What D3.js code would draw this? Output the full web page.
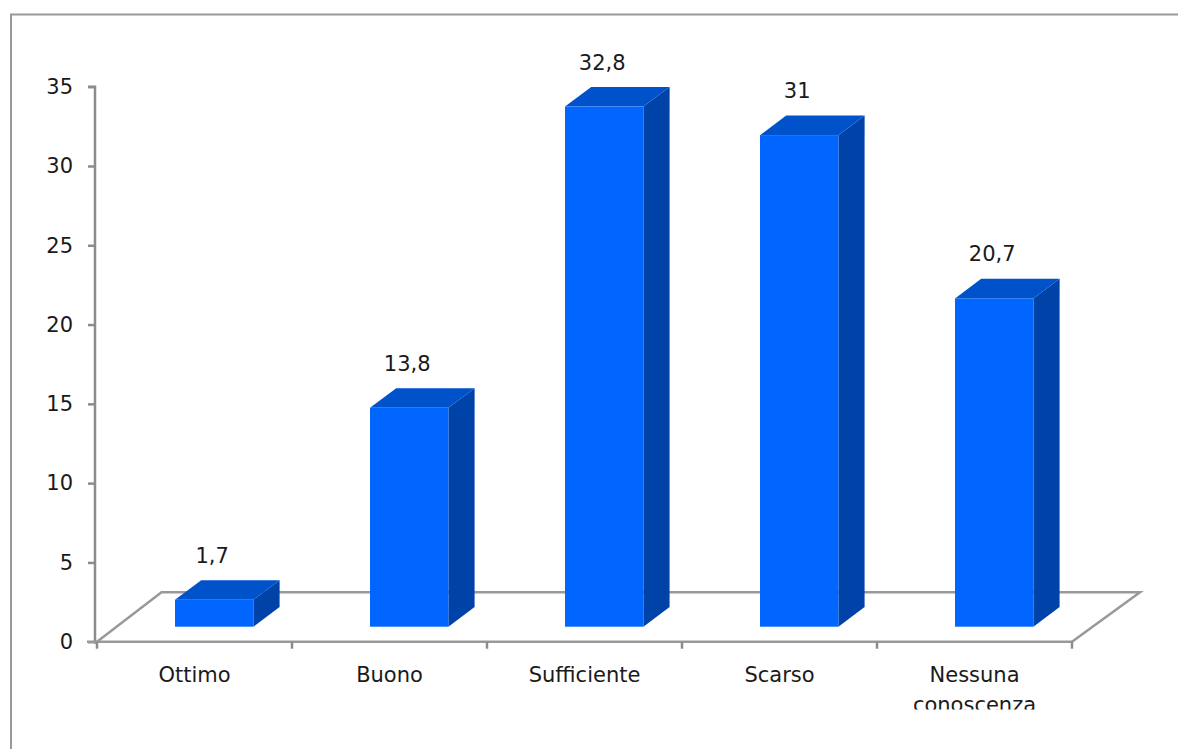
<!DOCTYPE html>
<html><head><meta charset="utf-8">
<script src="https://cdn.jsdelivr.net/npm/d3@7"></script>
<style>body{margin:0;background:#fff}svg{display:block}</style>
</head><body>
<script>
const categories = ["Ottimo","Buono","Sufficiente","Scarso","Nessuna conoscenza"];
const values = [1.7, 13.8, 32.8, 31, 20.7];
const labels = ["1,7","13,8","32,8","31","20,7"];
const yTicks = [0,5,10,15,20,25,30,35];

const W = 1178, H = 749;
const svg = d3.select("body").append("svg").attr("width", W).attr("height", H);
const font = "'DejaVu Sans', sans-serif";
const gray = "#8c8c8c";
const fs = 21;

// frame
svg.append("path").attr("d", `M11,${H} L11,14.5 L${W},14.5`).attr("fill","none").attr("stroke","#999").attr("stroke-width",2);

const x0 = 97, x1 = 1072, yFront = 641.7;
const floorDx = 64.5, floorDy = -49.5;
const x = d3.scaleBand().domain(categories).range([x0, x1]).padding(0);
const y = d3.scaleLinear().domain([0,35]).range([yFront, 86.7]);

// floor
svg.append("path")
  .attr("d", `M${x0},${yFront} L${x0+floorDx},${yFront+floorDy} L${x1+68},${yFront+floorDy} L${x1},${yFront}`)
  .attr("fill","none").attr("stroke","#999").attr("stroke-width",2.5);

// y axis
const yAxis = svg.append("g").attr("transform","translate(95,0)")
  .call(d3.axisLeft(y).tickValues(yTicks).tickSize(7).tickPadding(15));
yAxis.select(".domain").attr("stroke",gray).attr("stroke-width",2.5).attr("d", `M-7,${y(35)}H0V${yFront+2}`);
yAxis.selectAll(".tick line").attr("stroke",gray).attr("stroke-width",2.5);
yAxis.selectAll("text").attr("font-family",font).attr("font-size",fs).attr("fill","#1a1a1a");

// x axis line & ticks
const xg = svg.append("g");
xg.append("line").attr("x1",x0-10).attr("x2",x1).attr("y1",yFront).attr("y2",yFront).attr("stroke","#999").attr("stroke-width",2.5);
const bounds = categories.map(c => x(c)).concat([x1]);
xg.selectAll(".xt").data(bounds).join("line")
  .attr("x1",d=>d).attr("x2",d=>d).attr("y1",yFront).attr("y2",yFront+7)
  .attr("stroke",gray).attr("stroke-width",2.5);

// clip for category labels
svg.append("clipPath").attr("id","lc").append("rect").attr("x",0).attr("y",0).attr("width",W).attr("height",709.5);
const lab = svg.append("g").attr("clip-path","url(#lc)");
categories.forEach(c => {
  const words = c === "Nessuna conoscenza" ? ["Nessuna","conoscenza"] : [c];
  const t = lab.append("text").attr("x", x(c)+x.bandwidth()/2).attr("y",682)
    .attr("text-anchor","middle").attr("font-family",font).attr("font-size",fs).attr("fill","#1a1a1a");
  words.forEach((w,i)=> t.append("tspan").attr("x", x(c)+x.bandwidth()/2).attr("dy", i===0?0:30).text(w));
});

// bars
const bw = x.bandwidth()*0.402;
const offDx = 19.7, offDy = -15;   // bar front position within depth
const dDx = 26.2, dDy = -19.6;     // bar depth
const base = y(0) + offDy;
const hScale = d3.scaleLinear().domain([0,35]).range([0, yFront - y(35)]);
const bars = svg.append("g");
categories.forEach((c,i) => {
  const v = values[i];
  const l = x(c) + x.bandwidth()/2 - bw/2 + offDx;
  const r = l + bw;
  const top = base - hScale(v);
  bars.append("path").attr("d", `M${r},${base} L${r+dDx},${base+dDy} L${r+dDx},${top+dDy} L${r},${top}Z`).attr("fill","#0043A8");
  bars.append("path").attr("d", `M${l},${top} L${l+dDx},${top+dDy} L${r+dDx},${top+dDy} L${r},${top}Z`).attr("fill","#0052CA");
  bars.append("rect").attr("x",l).attr("y",top).attr("width",bw).attr("height",base-top).attr("fill","#0066FF");
  bars.append("text").attr("x",(l+r)/2 - 2).attr("y", top - 37)
    .attr("text-anchor","middle").attr("font-family",font).attr("font-size",fs).attr("fill","#1a1a1a").text(labels[i]);
});
</script>
</body></html>
